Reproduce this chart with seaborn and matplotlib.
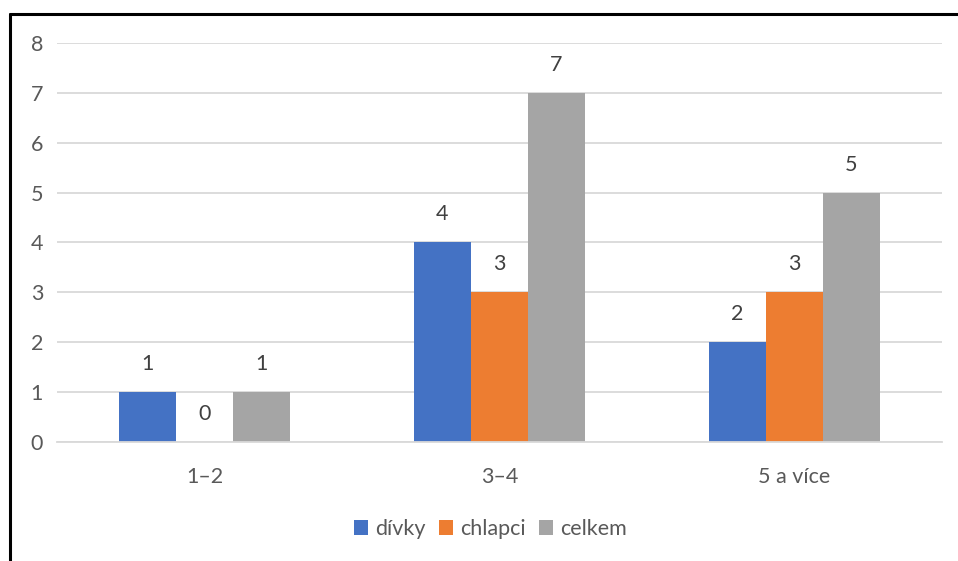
import matplotlib
matplotlib.use("Agg")
import matplotlib.pyplot as plt
from matplotlib.lines import Line2D
from matplotlib.patches import Patch
import seaborn as sns
import pandas as pd

categories = ["1–2", "3–4", "5 a více"]
series_names = ["dívky", "chlapci", "celkem"]
divky = [1, 4, 2]
chlapci = [0, 3, 3]
celkem = [1, 7, 5]
yticks = [0, 1, 2, 3, 4, 5, 6, 7, 8]
colors = ["#4472C4", "#ED7D31", "#A5A5A5"]

rows = []
for name, vals in zip(series_names, [divky, chlapci, celkem]):
    for c, v in zip(categories, vals):
        rows.append({"kategorie": c, "série": name, "hodnota": v})
df = pd.DataFrame(rows)

sns.set_theme(style="white")
plt.rcParams["font.family"] = ["Lato", "DejaVu Sans"]
text_color = "#595959"
fs = 15.5

fig = plt.figure(figsize=(9.58, 5.61), dpi=100)
ax = fig.add_axes([0.0595, 0.2121, 0.9235, 0.7113])

sns.barplot(data=df, x="kategorie", y="hodnota", hue="série", order=categories,
            hue_order=series_names, palette=colors, width=0.58, ax=ax,
            saturation=1, legend=False, edgecolor="none", linewidth=0)

ax.set_xlim(-0.5, 2.5)
ax.set_ylim(0, 8)
ax.set_yticks(yticks)
ax.yaxis.grid(True, color="#D9D9D9", linewidth=1.3)
ax.set_axisbelow(True)
for s in ["top", "right", "left"]:
    ax.spines[s].set_visible(False)
ax.spines["bottom"].set_color("#D9D9D9")
ax.spines["bottom"].set_linewidth(1.3)
ax.tick_params(axis="y", length=0, pad=10, labelsize=fs, labelcolor=text_color)
ax.tick_params(axis="x", length=0, pad=18, labelsize=fs, labelcolor=text_color)
ax.set_xlabel("")
ax.set_ylabel("")

for cont in ax.containers:
    ax.bar_label(cont, padding=13, fontsize=fs, color="#404040")

handles = [Patch(facecolor=c, edgecolor="none") for c in colors]
fig.legend(handles, series_names, loc="center", bbox_to_anchor=(0.512, 0.057),
           ncol=3, frameon=False, fontsize=fs, handlelength=0.65, handleheight=0.65,
           handletextpad=0.35, columnspacing=0.6, labelcolor=text_color)

fig.add_artist(Line2D([9.5 / 958, 1.0], [1 - 13.5 / 561, 1 - 13.5 / 561],
                      transform=fig.transFigure, color="black", linewidth=2.2))
fig.add_artist(Line2D([10 / 958, 10 / 958], [0.0, 1 - 13.5 / 561],
                      transform=fig.transFigure, color="black", linewidth=2.2))

fig.savefig("out.png", dpi=100)
